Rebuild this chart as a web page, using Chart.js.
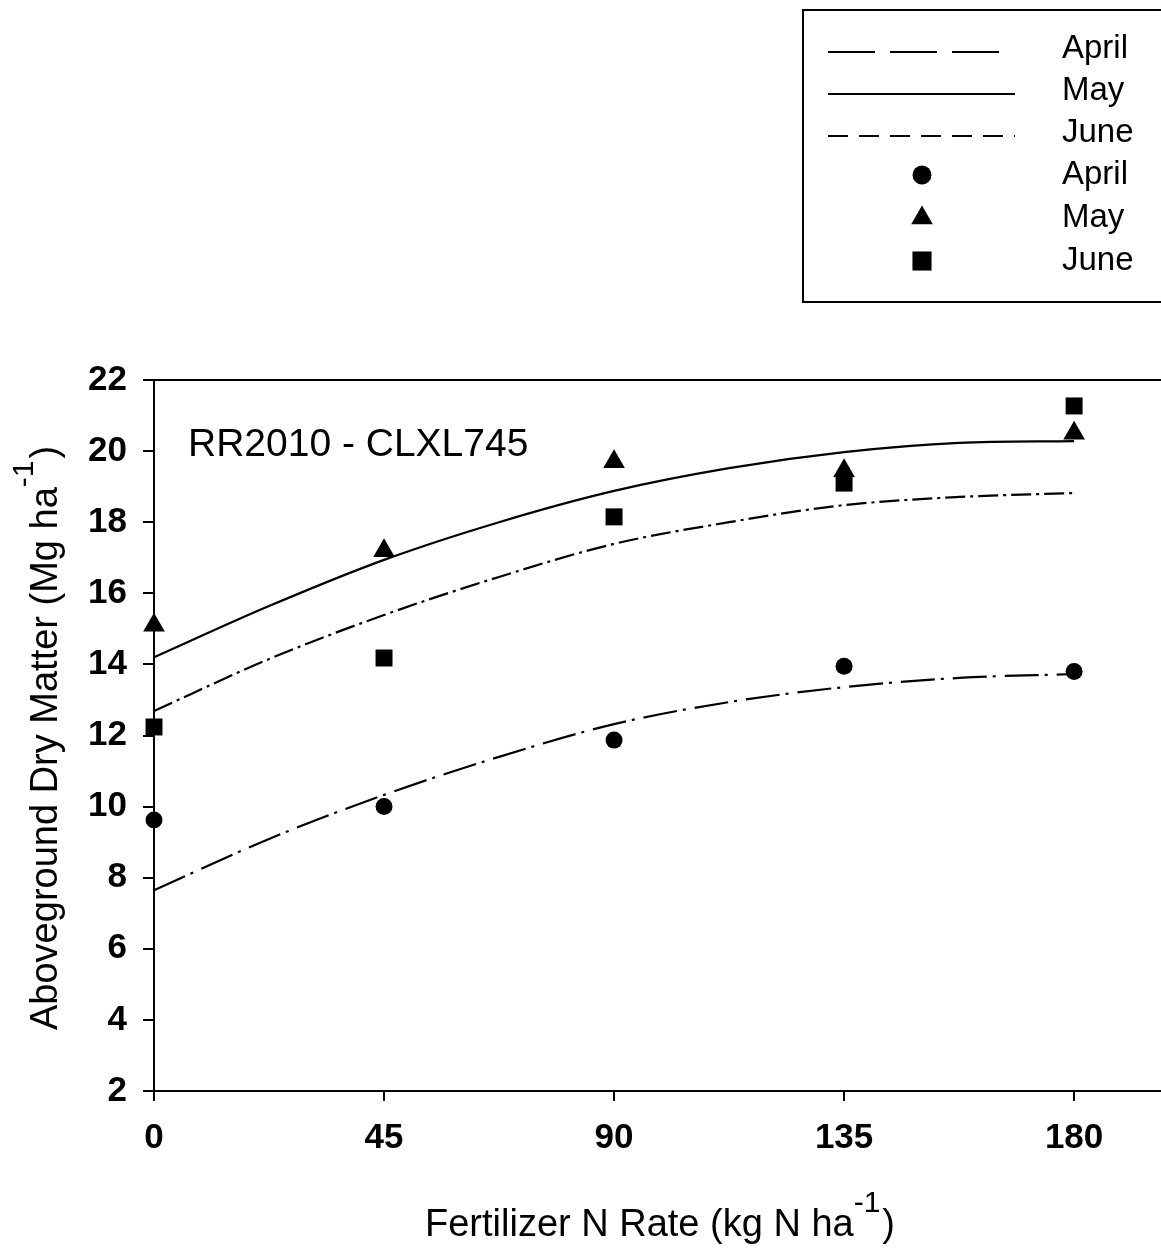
<!DOCTYPE html>
<html>
<head>
<meta charset="utf-8">
<script src="https://cdn.jsdelivr.net/npm/chart.js@4.4.1/dist/chart.umd.min.js"></script>
<style>
  html, body { margin: 0; padding: 0; background: #fff; }
  canvas { display: block; }
</style>
</head>
<body>
<canvas id="chart" width="1161" height="1249"></canvas>
<script>
// observed dry matter (Mg/ha) at each N rate
const nRates = [0, 45, 90, 135, 180];
const aprilObs = [9.62, 10.0, 11.87, 13.95, 13.8];
const mayObs = [15.1, 17.2, 19.7, 19.45, 20.5];
const juneObs = [12.24, 14.18, 18.15, 19.1, 21.27];

// fitted curves
const fitRates = [0, 22.5, 45, 67.5, 90, 112.5, 135, 157.5, 180];
const aprilFit = [7.65, 9.09, 10.33, 11.4, 12.32, 12.94, 13.36, 13.62, 13.73];
const mayFit = [14.2, 15.64, 16.94, 18.0, 18.88, 19.52, 19.97, 20.23, 20.28];
const juneFit = [12.69, 14.15, 15.39, 16.46, 17.39, 18.0, 18.48, 18.71, 18.82];

const xTicks = [0, 45, 90, 135, 180];
const legendLabels = ['April', 'May', 'June', 'April', 'May', 'June'];

const FONT = "'Liberation Sans', Arial, sans-serif";

const pts = (xs, ys) => xs.map((x, i) => ({ x: x, y: ys[i] }));

function fitSet(label, ys, dash) {
  return {
    label: label,
    data: pts(fitRates, ys),
    showLine: true,
    borderColor: '#000',
    borderWidth: 2.2,
    borderDash: dash,
    pointRadius: 0,
    cubicInterpolationMode: 'monotone',
    clip: false
  };
}

function obsSet(label, ys, style, r) {
  return {
    label: label,
    data: pts(nRates, ys),
    showLine: false,
    pointStyle: style,
    pointRadius: r,
    backgroundColor: '#000',
    borderWidth: 0,
    clip: false
  };
}

const extras = {
  id: 'extras',
  afterDraw(chart) {
    const ctx = chart.ctx;
    const a = chart.chartArea;
    ctx.save();
    // top frame line
    ctx.strokeStyle = '#000';
    ctx.lineWidth = 2;
    ctx.beginPath();
    ctx.moveTo(a.left - 11, a.top);
    ctx.lineTo(a.right, a.top);
    ctx.stroke();

    ctx.fillStyle = '#000';
    ctx.textBaseline = 'alphabetic';
    ctx.textAlign = 'left';

    // panel label
    ctx.font = '39px ' + FONT;
    ctx.fillText('RR2010 - CLXL745', 188, 456);

    // x title
    ctx.font = '38px ' + FONT;
    let s = 'Fertilizer N Rate (kg N ha';
    let x = 425;
    ctx.fillText(s, x, 1236);
    x += ctx.measureText(s).width;
    ctx.font = '30px ' + FONT;
    ctx.fillText('-1', x, 1212);
    x += ctx.measureText('-1').width;
    ctx.font = '38px ' + FONT;
    ctx.fillText(')', x + 2, 1236);

    // y title
    ctx.translate(57, 1030);
    ctx.rotate(-Math.PI / 2);
    ctx.font = '38px ' + FONT;
    s = 'Aboveground Dry Matter (Mg ha';
    x = 0;
    ctx.fillText(s, x, 0);
    x += ctx.measureText(s).width;
    ctx.font = '30px ' + FONT;
    ctx.fillText('-1', x, -24);
    x += ctx.measureText('-1').width;
    ctx.font = '38px ' + FONT;
    ctx.fillText(')', x + 2, 0);
    ctx.restore();

    // legend
    ctx.save();
    ctx.strokeStyle = '#000';
    ctx.lineWidth = 2;
    ctx.strokeRect(803, 10, 420, 292);
    const rows = [49, 91, 133, 175, 218, 261];
    const lineDash = [[47, 15], [], [20, 11]];
    const lineEnd = [1000, 1015, 1015];
    for (let i = 0; i < 3; i++) {
      ctx.setLineDash(lineDash[i]);
      ctx.beginPath();
      ctx.moveTo(828, rows[i] + 3);
      ctx.lineTo(lineEnd[i], rows[i] + 3);
      ctx.stroke();
    }
    ctx.setLineDash([]);
    ctx.fillStyle = '#000';
    const marks = [['circle', 9.5], ['triangle', 12.5], ['rect', 13.5]];
    for (let i = 0; i < 3; i++) {
      Chart.helpers.drawPoint(ctx, { pointStyle: marks[i][0], radius: marks[i][1], rotation: 0, borderWidth: 0 }, 922, rows[i + 3]);
    }
    ctx.font = '33px ' + FONT;
    ctx.textBaseline = 'middle';
    legendLabels.forEach((t, i) => ctx.fillText(t, 1062, rows[i]));
    ctx.restore();
  }
};

new Chart(document.getElementById('chart'), {
  type: 'scatter',
  data: {
    datasets: [
      fitSet('April fit', aprilFit, [34, 6, 3, 9]),
      fitSet('May fit', mayFit, []),
      fitSet('June fit', juneFit, [20, 5, 3, 5]),
      obsSet('April', aprilObs, 'circle', 8.5),
      obsSet('May', mayObs, 'triangle', 12.5),
      obsSet('June', juneObs, 'rect', 12)
    ]
  },
  options: {
    responsive: false,
    animation: false,
    layout: { autoPadding: false, padding: { top: 380, right: 0, bottom: 0, left: 0 } },
    plugins: {
      legend: { display: false },
      tooltip: { enabled: false }
    },
    scales: {
      x: {
        type: 'linear',
        min: 0,
        max: 197,
        afterBuildTicks: (scale) => { scale.ticks = xTicks.map(v => ({ value: v })); },
        afterFit: (scale) => {
          scale.height = 158;
          scale.paddingLeft = 0;
          scale.paddingRight = 0;
        },
        grid: { drawOnChartArea: false, drawTicks: true, tickLength: 10, color: '#000', lineWidth: 2 },
        border: { display: true, color: '#000', width: 2 },
        ticks: { color: '#000', padding: 16, font: { family: FONT, weight: 'bold', size: 35 } }
      },
      y: {
        min: 2,
        max: 22,
        afterFit: (scale) => {
          scale.width = 154;
          scale.paddingTop = 0;
          scale.paddingBottom = 0;
        },
        grid: { drawOnChartArea: false, drawTicks: true, tickLength: 11, color: '#000', lineWidth: 2 },
        border: { display: true, color: '#000', width: 2 },
        ticks: { stepSize: 2, color: '#000', padding: 16, font: { family: FONT, weight: 'bold', size: 35 } }
      }
    }
  },
  plugins: [extras]
});
</script>
</body>
</html>
